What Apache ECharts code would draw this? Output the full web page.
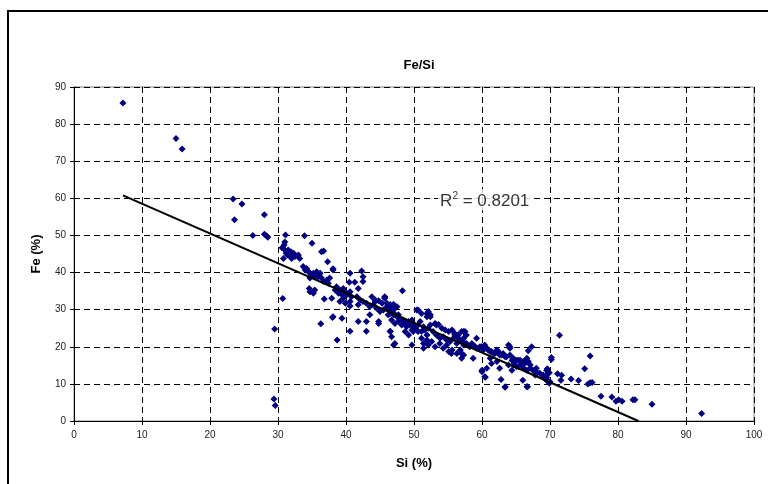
<!DOCTYPE html>
<html>
<head>
<meta charset="utf-8">
<script src="https://cdn.jsdelivr.net/npm/echarts@6/dist/echarts.min.js"></script>
<style>
html,body{margin:0;padding:0;background:#fff;}
#chart{width:768px;height:484px;}
</style>
</head>
<body>
<div id="chart"></div>
<script>
// Chart texts
const chartTitle = 'Fe/Si';
const xAxisName = 'Si (%)';
const yAxisName = 'Fe (%)';
const r2Text = '0.8201';

// Axis ranges / ticks
const xMin = 0, xMax = 100, xStep = 10;
const yMin = 0, yMax = 90, yStep = 10;

// Outlying samples [Si, Fe]
const outlierPoints = [
  [7.2,85.7],[15.0,76.1],[15.9,73.3],[23.4,59.8],[24.7,58.5],[23.6,54.2],[28.0,55.6],
  [26.3,50.0],[28.0,50.3],[28.3,49.9],[28.5,49.5],[31.1,50.1],[33.9,49.9],[29.5,24.8],
  [29.4,5.9],[29.6,4.2],[30.7,33.0]
];

// High-Si tail samples [Si, Fe]
const tailPoints = [
  [71.4,23.1],[67.3,20.0],[64.1,20.0],[66.8,18.9],[75.9,17.5],[70.2,17.1],[70.2,16.6],
  [75.1,14.1],[69.6,14.1],[69.9,13.0],[71.1,12.7],[71.7,12.3],[71.6,11.0],[73.1,11.3],
  [74.2,10.9],[69.5,11.8],[69.3,11.3],[69.9,10.2],[75.6,10.0],[75.9,10.3],[76.2,10.4],
  [77.5,6.7],[79.1,6.5],[79.7,5.3],[80.1,5.7],[80.6,5.3],[82.2,5.7],[82.5,5.7],[85.0,4.5],
  [92.3,2.0],[66.0,11.0],[66.7,9.2],[63.4,9.1],[62.8,11.2],[60.5,11.8]
];

// Main band, Si 30-42 [Si, Fe]
const bandLowPoints = [
  [35.0,47.9],[31.0,48.2],[30.6,46.7],[31.0,46.1],[30.9,47.4],[31.5,46.1],[31.9,45.6],
  [32.3,45.2],[31.8,44.3],[31.4,44.7],[32.5,44.3],[33.0,44.7],[33.2,43.8],[32.0,43.8],
  [30.8,43.8],[31.2,45.2],[36.7,45.8],[37.3,42.9],[38.1,41.0],[33.7,41.6],[34.2,41.1],
  [34.0,40.7],[34.5,40.2],[34.7,39.8],[35.0,39.3],[35.2,39.8],[35.7,40.2],[36.2,39.8],
  [35.9,38.9],[35.4,38.9],[34.7,38.5],[36.4,38.5],[36.7,37.6],[37.2,38.0],[37.4,37.1],
  [37.6,38.5],[34.7,34.8],[35.2,34.4],[35.4,35.3],[34.6,35.7],[36.8,32.9],[36.3,26.2],
  [38.0,27.9],[39.4,27.7],[38.7,21.8],[42.3,40.4],[42.5,38.9],[41.3,37.4],[41.8,35.7],
  [40.5,37.4],[38.6,36.2],[39.1,35.3],[39.6,35.7],[39.9,34.8],[40.1,34.0],[39.4,34.0],
  [38.9,34.4],[39.6,33.1],[39.1,32.2],[39.9,31.7],[40.6,32.2],[40.8,33.5],[40.6,34.8],
  [38.4,35.3],[40.6,31.0],[37.9,33.1],[42.5,37.6],[43.8,33.5],[45.7,33.5],[40.6,39.8],
  [38.1,40.7],[36.4,45.6]
];

// Main band, Si 41-54 [Si, Fe]
const bandMidPoints = [
  [41.6,33.5],[42.1,32.6],[42.5,32.2],[41.8,31.3],[43.0,31.7],[43.5,30.8],[44.0,31.3],
  [44.5,30.4],[44.3,32.6],[45.0,29.5],[45.5,29.9],[46.0,30.8],[45.7,33.1],[46.2,28.6],
  [46.5,29.5],[47.0,29.1],[47.2,30.4],[47.5,28.1],[47.7,28.6],[38.1,28.1],[41.8,26.8],
  [43.0,26.8],[43.5,28.6],[44.8,26.8],[43.0,24.2],[40.6,24.2],[46.5,24.2],[48.3,35.1],
  [47.0,31.4],[46.7,30.4],[46.5,29.0],[47.0,28.6],[46.7,27.2],[47.2,26.3],[47.7,26.8],
  [47.9,27.7],[48.4,27.2],[48.2,25.9],[48.7,26.3],[48.9,25.4],[49.2,26.8],[49.4,25.9],
  [49.7,27.2],[49.9,26.3],[50.1,25.4],[50.4,24.5],[49.9,24.1],[50.6,25.9],[50.9,26.8],
  [51.4,25.4],[51.1,24.1],[51.6,24.5],[51.9,23.2],[52.1,25.0],[52.4,25.9],[50.6,29.9],
  [51.9,29.0],[52.1,28.6],[52.4,28.1],[47.2,20.9],[47.0,20.5],[49.7,20.5],[51.4,19.6],
  [53.6,26.0],[45.7,33.2],[44.3,32.2],[44.8,32.4],[45.3,31.7],[46.0,31.7],[46.5,31.4],
  [47.0,31.3],[47.5,30.8],[50.4,29.9],[52.1,29.5],[52.4,28.6],[51.9,28.1],[53.1,26.3],
  [54.1,25.0],[54.6,24.5],[55.1,24.1],[55.6,24.5],[56.0,23.6],[56.5,23.2],[57.0,24.1],
  [57.3,22.3],[44.8,26.3],[46.5,24.1],[46.7,22.7],[48.7,24.1],[49.2,23.2],[49.7,24.5],
  [50.6,24.1],[51.1,22.3],[51.4,20.9],[51.9,21.8],[52.1,20.5],[52.6,21.4],[53.1,20.0],
  [53.8,20.9],[54.3,19.6],[54.8,20.5],[55.1,18.7],[55.6,19.1],[56.3,18.2],[56.8,19.1],
  [57.3,17.8],[51.1,29.0]
];

// Main band, Si 52-70 [Si, Fe]
const bandHighPoints = [
  [52.8,24.1],[53.3,23.2],[53.8,22.3],[54.3,22.7],[54.8,21.8],[55.3,21.4],[55.8,22.3],
  [56.3,20.9],[56.8,21.8],[57.3,20.5],[57.7,20.9],[58.2,20.0],[58.7,20.5],[59.2,19.6],
  [59.7,20.0],[60.2,19.1],[60.7,19.6],[61.2,18.7],[61.7,18.2],[62.2,19.1],[62.6,17.8],
  [63.1,18.2],[63.6,17.3],[64.1,17.8],[64.6,16.9],[65.1,16.4],[53.3,25.9],[57.3,24.1],
  [57.7,23.2],[59.2,22.3],[60.4,20.5],[63.9,20.5],[55.5,18.2],[57.0,18.2],[60.0,13.3],
  [60.7,14.2],[62.6,14.2],[58.7,16.9],[61.2,16.9],[62.2,16.0],[63.9,15.1],[64.4,16.4],
  [64.9,16.0],[65.3,16.4],[65.8,16.0],[66.3,15.5],[66.6,16.9],[66.8,16.0],[64.6,15.1],
  [65.1,14.6],[65.6,15.1],[66.1,14.2],[66.6,13.7],[67.1,14.2],[67.5,13.7],[68.0,13.3],
  [68.5,12.9],[69.0,12.4],[67.8,12.4],[69.5,13.7],[69.7,12.8],[69.3,11.5],[69.5,11.0],
  [70.0,10.6],[57.5,24.1],[56.0,23.2],[56.5,22.3],[57.0,21.4],[57.5,20.9],[57.9,20.5],
  [58.5,20.9],[59.0,20.0],[59.5,19.6],[59.9,20.0],[60.9,19.1],[61.4,18.7],[61.9,18.2],
  [62.4,18.7],[62.9,17.8],[63.4,17.3],[64.1,19.6],[65.6,16.4],[66.1,16.0],[67.1,15.1],
  [68.0,14.2],[69.0,11.9],[57.0,16.9],[60.0,13.7],[60.4,11.9],[63.4,9.2],[66.6,9.2],
  [61.4,15.5],[64.4,13.7]
];

// Linear trendline end points [Si, Fe]
const trendX = [7.2, 83.0];
const trendY = [60.8, 0.0];

// R² annotation anchor (data coords)
const r2Anchor = [60.4, 59.6];

const allPoints = [].concat(outlierPoints, tailPoints, bandLowPoints, bandMidPoints, bandHighPoints);
const trendData = trendX.map((x, i) => [x, trendY[i]]);

const FONT = '"Liberation Sans", Arial, sans-serif';
const chart = echarts.init(document.getElementById('chart'), null, {renderer: 'canvas'});

const dashed = {type: [6, 4], color: '#000', width: 1};

chart.setOption({
  backgroundColor: '#fff',
  animation: false,
  textStyle: {fontFamily: FONT},
  title: {
    text: chartTitle,
    left: 414, top: 54, textAlign: 'center',
    textStyle: {fontFamily: FONT, fontSize: 13, fontWeight: 'bold', color: '#000'}
  },
  graphic: [{
    type: 'rect',
    shape: {x: 8, y: 11, width: 800, height: 520},
    style: {fill: 'none', stroke: '#000', lineWidth: 2},
    silent: true, z: 100
  }],
  grid: {
    left: 74, right: 14, top: 87, bottom: 63,
    show: true, borderColor: '#808080', borderWidth: 1, backgroundColor: '#fff'
  },
  xAxis: {
    type: 'value', min: xMin, max: xMax, interval: xStep,
    name: xAxisName, nameLocation: 'middle', nameGap: 36,
    nameTextStyle: {fontFamily: FONT, fontSize: 13, fontWeight: 'bold', color: '#000'},
    axisLine: {show: true, onZero: false, lineStyle: {color: '#000', width: 1}},
    axisTick: {show: true, inside: false, length: 4, lineStyle: {color: '#000'}},
    axisLabel: {fontFamily: FONT, fontSize: 10, color: '#222', margin: 9},
    splitLine: {show: true, lineStyle: dashed}
  },
  yAxis: {
    type: 'value', min: yMin, max: yMax, interval: yStep,
    name: yAxisName, nameLocation: 'middle', nameGap: 31, nameRotate: 90,
    nameTextStyle: {fontFamily: FONT, fontSize: 13, fontWeight: 'bold', color: '#000'},
    axisLine: {show: true, onZero: false, lineStyle: {color: '#000', width: 1}},
    axisTick: {show: true, inside: false, length: 4, lineStyle: {color: '#000'}},
    axisLabel: {fontFamily: FONT, fontSize: 10, color: '#222', margin: 8},
    splitLine: {show: true, lineStyle: dashed}
  },
  series: [
    {
      name: 'Fe/Si',
      type: 'scatter',
      data: allPoints,
      symbol: 'diamond',
      symbolSize: 7,
      itemStyle: {color: '#000080', opacity: 1},
      z: 3
    },
    {
      name: 'Trend',
      type: 'line',
      data: trendData,
      showSymbol: false,
      symbol: 'none',
      lineStyle: {color: '#000', width: 2},
      z: 4
    },
    {
      name: 'R2',
      type: 'scatter',
      data: [r2Anchor],
      symbolSize: 1,
      itemStyle: {color: 'rgba(0,0,0,0)'},
      label: {
        show: true,
        position: 'inside',
        formatter: '{a|R}{s|2}{a| = ' + r2Text + '}',
        backgroundColor: '#fff',
        padding: [2, 2, 0, 2],
        rich: {
          a: {fontFamily: FONT, fontSize: 17, color: '#000'},
          s: {fontFamily: FONT, fontSize: 10, color: '#000', padding: [0, 0, 9, 0]}
        }
      },
      z: 5
    }
  ]
});
</script>
</body>
</html>
